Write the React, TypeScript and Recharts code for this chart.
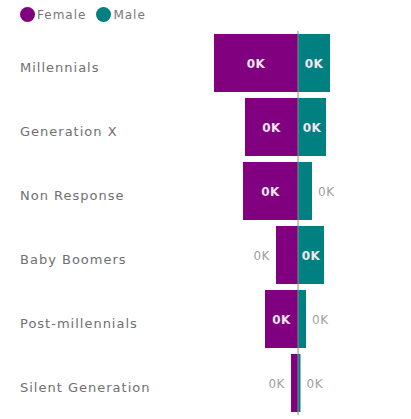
import { BarChart, Bar, XAxis, YAxis, ReferenceLine, LabelList } from "recharts";

const generations = [
  "Millennials",
  "Generation X",
  "Non Response",
  "Baby Boomers",
  "Post-millennials",
  "Silent Generation",
];
const femaleValues = [168, 106, 110, 44, 66, 14];
const maleValues = [64, 56, 28, 52, 16, 5];
const seriesNames = ["Female", "Male"];
const seriesColors = ["#800080", "#008080"];

const data = generations.map((name, i) => ({
  name,
  female: -femaleValues[i],
  male: maleValues[i],
}));

function formatK(v: number): string {
  return `${Math.abs(Math.round(v / 1000))}K`;
}

function makeLabel(side: "left" | "right") {
  return (props: any) => {
    const { x, y, width, height, value } = props;
    const left = Math.min(Number(x), Number(x) + Number(width));
    const w = Math.abs(Number(width));
    const cy = Number(y) + Number(height) / 2;
    if (w >= 24) {
      return (
        <text
          x={left + w / 2}
          y={cy}
          dy={5}
          textAnchor="middle"
          fill="#f3e6f3"
          fontSize={12}
          fontWeight="bold"
          letterSpacing={0.5}
          fontFamily="DejaVu Sans"
        >
          {formatK(value)}
        </text>
      );
    }
    return (
      <text
        x={side === "left" ? left - 6 : left + w + 6}
        y={cy}
        dy={5}
        textAnchor={side === "left" ? "end" : "start"}
        fill="#a0a0a0"
        fontSize={12}
        letterSpacing={0.5}
        fontFamily="DejaVu Sans"
      >
        {formatK(value)}
      </text>
    );
  };
}

function CategoryTick(props: any) {
  const { y, payload } = props;
  return (
    <text
      x={20}
      y={y}
      dy={9}
      textAnchor="start"
      fill="#707070"
      fontSize={13}
      letterSpacing={1}
      fontFamily="DejaVu Sans"
    >
      {payload.value}
    </text>
  );
}

export default function App() {
  return (
    <div style={{ position: "absolute", left: 0, top: 0, width: 411, height: 419, background: "#fff" }}>
      <div
        style={{
          position: "absolute",
          left: 20,
          top: 7,
          display: "flex",
          alignItems: "center",
          fontFamily: "DejaVu Sans",
          fontSize: 12,
          letterSpacing: 1,
          color: "#777",
        }}
      >
        {seriesNames.map((n, i) => (
          <span key={n} style={{ display: "flex", alignItems: "center", marginRight: 10 }}>
            <span
              style={{
                width: 15,
                height: 15,
                borderRadius: "50%",
                background: seriesColors[i],
                display: "inline-block",
                marginRight: 2,
              }}
            />
            {n}
          </span>
        ))}
      </div>
      <BarChart
        width={411}
        height={419}
        data={data}
        layout="vertical"
        stackOffset="sign"
        barCategoryGap={3}
        margin={{ top: 31, right: 13, bottom: 4, left: 0 }}
      >
        <XAxis type="number" domain={[-200, 200]} hide />
        <YAxis
          type="category"
          dataKey="name"
          width={198}
          axisLine={false}
          tickLine={false}
          tick={<CategoryTick />}
        />
        <Bar dataKey="female" stackId="g" fill={seriesColors[0]} isAnimationActive={false}>
          <LabelList dataKey="female" content={makeLabel("left")} />
        </Bar>
        <Bar dataKey="male" stackId="g" fill={seriesColors[1]} isAnimationActive={false}>
          <LabelList dataKey="male" content={makeLabel("right")} />
        </Bar>
        <ReferenceLine x={0} stroke="#888" strokeWidth={1} />
      </BarChart>
    </div>
  );
}
